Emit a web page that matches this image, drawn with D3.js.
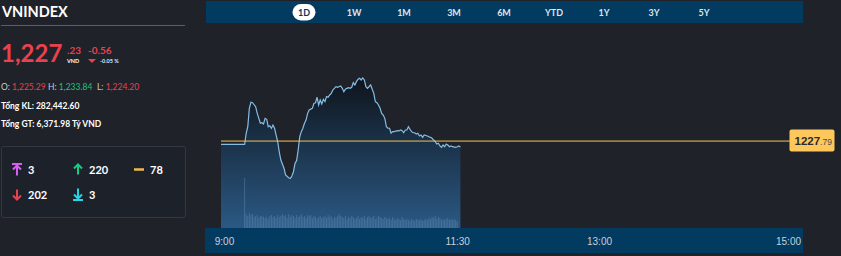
<!DOCTYPE html>
<html>
<head>
<meta charset="utf-8">
<script src="https://cdn.jsdelivr.net/npm/d3@7"></script>
<style>
  body { margin: 0; background: #202229; overflow: hidden; }
  svg { display: block; font-family: Lato, "Noto Sans", sans-serif; }
</style>
</head>
<body>
<svg id="chart" width="841" height="256"></svg>
<script>
// ---- data ----
const times = [
  "9:00","9:15","9:16","9:17","9:18","9:19","9:20","9:22","9:23","9:24",
  "9:25","9:26","9:27","9:28","9:29","9:30","9:31","9:32","9:33","9:34",
  "9:35","9:36","9:37","9:38","9:40","9:41","9:43","9:44","9:45","9:46",
  "9:47","9:48","9:49","9:50","9:51","9:52","9:53","9:54","9:55","9:56",
  "9:58","9:59","10:00","10:01","10:02","10:03","10:04","10:05","10:06","10:07",
  "10:08","10:09","10:10","10:11","10:12","10:13","10:14","10:16","10:17","10:18",
  "10:19","10:20","10:21","10:22","10:23","10:24","10:25","10:26","10:27","10:28",
  "10:29","10:30","10:31","10:32","10:33","10:35","10:36","10:37","10:38","10:39",
  "10:40","10:41","10:42","10:43","10:44","10:45","10:46","10:47","10:48","10:49",
  "10:50","10:52","10:53","10:54","10:55","10:56","10:57","10:58","10:59","11:00",
  "11:01","11:02","11:03","11:04","11:05","11:06","11:07","11:08","11:09","11:11",
  "11:12","11:13","11:14","11:15","11:16","11:17","11:18","11:19","11:20","11:21",
  "11:22","11:23","11:24","11:25","11:26","11:27","11:29","11:30","11:31","11:32"
];
const prices = [
  1227.48,1227.48,1228.54,1229.17,1230.93,1231.51,1231.47,1231.09,1230.45,1229.97,
  1229.50,1229.55,1229.43,1229.97,1229.88,1229.17,1229.26,1229.02,1229.33,1229.02,
  1228.37,1227.73,1226.74,1225.97,1225.18,1224.54,1224.28,1224.20,1224.44,1224.85,
  1225.66,1225.91,1226.93,1228.21,1228.69,1229.02,1229.50,1229.81,1230.45,1230.77,
  1230.93,1231.41,1231.47,1231.99,1231.25,1231.73,1231.35,1231.80,1231.57,1232.05,
  1231.99,1232.21,1232.37,1232.69,1232.85,1233.01,1232.95,1233.07,1232.85,1232.53,
  1232.76,1232.85,1232.91,1232.85,1232.95,1233.39,1233.17,1233.49,1233.72,1233.81,
  1233.65,1233.84,1233.65,1233.01,1232.85,1233.17,1232.76,1232.37,1231.57,1231.47,
  1231.25,1230.93,1230.45,1230.29,1229.97,1229.17,1229.02,1229.02,1228.54,1228.69,
  1228.69,1228.79,1228.76,1228.85,1228.79,1228.59,1228.85,1228.85,1229.17,1228.92,
  1228.69,1228.59,1228.59,1228.47,1228.54,1228.28,1228.37,1228.15,1228.37,1228.28,
  1228.21,1228.15,1228.06,1227.89,1227.73,1227.51,1227.58,1227.32,1227.19,1227.41,
  1227.25,1227.51,1227.41,1227.25,1227.32,1227.25,1227.19,1227.25,1227.32,1227.23
];

const volTimes = [
  "9:15","9:16","9:17","9:18","9:19","9:20","9:21","9:22","9:23","9:24","9:25",
  "9:26","9:27","9:28","9:29","9:30","9:31","9:32","9:33","9:34","9:35",
  "9:36","9:37","9:38","9:39","9:40","9:41","9:42","9:43","9:44","9:45",
  "9:46","9:47","9:48","9:49","9:50","9:51","9:52","9:53","9:54","9:55",
  "9:56","9:57","9:58","9:59","10:00","10:01","10:02","10:03","10:04","10:05",
  "10:06","10:07","10:08","10:09","10:10","10:11","10:12","10:13","10:14","10:15",
  "10:16","10:17","10:18","10:19","10:20","10:21","10:22","10:23","10:24","10:25",
  "10:26","10:27","10:28","10:29","10:30","10:31","10:32","10:33","10:34","10:35",
  "10:36","10:37","10:38","10:39","10:40","10:41","10:42","10:43","10:44","10:45",
  "10:46","10:47","10:48","10:49","10:50","10:51","10:52","10:53","10:54","10:55",
  "10:56","10:57","10:58","10:59","11:00","11:01","11:02","11:03","11:04","11:05",
  "11:06","11:07","11:08","11:09","11:10","11:11","11:12","11:13","11:14","11:15",
  "11:16","11:17","11:18","11:19","11:20","11:21","11:22","11:23","11:24","11:25",
  "11:26","11:27","11:28","11:29","11:30"
];
const volumes = [
  8520,2390,2040,2560,2210,2380,1870,2050,2210,1700,2040,
  2040,1870,1710,1870,1530,2040,2210,1870,2040,1700,
  2210,1870,2040,2380,2040,2210,1700,2380,1870,2210,
  2040,1700,2210,1870,2040,2380,1870,2040,1700,2210,
  2040,2210,1700,2040,1870,1530,1870,2040,1700,1870,
  2040,1700,2210,1870,2040,1530,1870,1700,2040,2380,
  2040,1870,1700,2040,1530,1870,1700,2040,1870,1530,
  1700,2040,1530,1870,1700,2040,1530,1870,2040,1700,
  1870,2040,1530,1700,2040,1870,1700,1530,1870,1700,
  1530,1700,1360,1870,1530,1360,1700,1530,1360,1870,
  1530,1360,1530,1360,1190,1530,1360,1190,1530,1360,
  1360,1530,1190,1360,1530,1360,1700,1530,1870,1700,
  2040,1530,1870,1700,1360,1530,1360,1530,1700,1360,
  1530,1360,1530,1360,1190
];

const refPrice = 1227.79;
const axisTicks = ["9:00", "11:30", "13:00", "15:00"];
const periods = ["1D", "1W", "1M", "3M", "6M", "YTD", "1Y", "3Y", "5Y"];
const ohlLabels = ["O: ", "H: ", "L: "];
const ohlValues = [1225.29, 1233.84, 1224.20];
const breadthKeys = ["ceil", "up", "flat", "down", "floor"];
const breadthCounts = [3, 220, 78, 202, 3];

// ---- scales ----
const parseTime = d3.timeParse("%H:%M");
const x = d3.scaleTime()
    .domain([parseTime("9:00"), parseTime("15:00")])
    .range([221, 788]);
const y = d3.scaleLinear()
    .domain([d3.min(prices), d3.max(prices)])
    .range([178.5, 78]);
const plotBottom = 228;
const yVol = d3.scaleLinear().domain([0, 8500]).range([plotBottom, 178]);

const svg = d3.select("#chart");
const RED = "#e8414f", GREEN = "#1fc37a", NAVY = "#023a60";

// ---- top period bar ----
svg.append("rect").attr("x", 206).attr("y", 1).attr("width", 597).attr("height", 22).attr("fill", NAVY);
const px = d3.scalePoint().domain(periods).range([304, 704]);
svg.append("rect").attr("x", px("1D") - 11.5).attr("y", 4).attr("width", 23).attr("height", 16.5)
    .attr("rx", 8.5).attr("fill", "#fff");
svg.selectAll(".period").data(periods).enter().append("text")
    .attr("x", d => px(d)).attr("y", 15.5)
    .attr("text-anchor", "middle")
    .style("font-size", "9px").style("font-weight", "bold")
    .attr("fill", d => d === "1D" ? NAVY : "#dde5ee")
    .text(d => d);

// ---- price area + line ----
const data = times.map((t, i) => ({t: parseTime(t), p: prices[i]}));
const defs = svg.append("defs");
const grad = defs.append("linearGradient").attr("id", "fillGrad")
    .attr("gradientUnits", "userSpaceOnUse")
    .attr("x1", 0).attr("y1", y.range()[1]).attr("x2", 0).attr("y2", plotBottom);
grad.append("stop").attr("offset", "0%").attr("stop-color", "#0f141c");
grad.append("stop").attr("offset", "100%").attr("stop-color", "#2b5984");

svg.append("path").datum(data)
    .attr("fill", "url(#fillGrad)")
    .attr("d", d3.area().x(d => x(d.t)).y0(plotBottom).y1(d => y(d.p)));

// volume bars
svg.selectAll(".vol").data(volumes).enter().append("rect")
    .attr("x", (d, i) => x(parseTime(volTimes[i])) - 0.5)
    .attr("y", d => yVol(d))
    .attr("width", 1)
    .attr("height", d => plotBottom - yVol(d))
    .attr("fill", "rgba(130,175,220,0.3)");

svg.append("path").datum(data)
    .attr("fill", "none")
    .attr("stroke", "#86bde3")
    .attr("stroke-width", 1.2)
    .attr("d", d3.line().x(d => x(d.t)).y(d => y(d.p)));

// reference line + label
svg.append("line")
    .attr("x1", x(parseTime("9:00"))).attr("x2", 790)
    .attr("y1", y(refPrice)).attr("y2", y(refPrice))
    .attr("stroke", "#f6c350").attr("stroke-width", 1);
const lbl = svg.append("g").attr("transform", "translate(789.5," + (y(refPrice) - 11.5) + ")");
lbl.append("rect").attr("width", 45).attr("height", 22).attr("rx", 2).attr("fill", "#fec75b");
const lt = lbl.append("text").attr("x", 5).attr("y", 15.5)
    .style("font-family", "'Liberation Sans', Arial, sans-serif");
lt.append("tspan").style("font-size", "11.5px").style("font-weight", "bold").attr("fill", "#2b2b2b")
    .text(Math.floor(refPrice));
lt.append("tspan").style("font-size", "8.5px").attr("fill", "#4a4a4a")
    .text("." + refPrice.toFixed(2).split(".")[1]);

// ---- time axis ----
svg.append("rect").attr("x", 205).attr("y", plotBottom).attr("width", 598).attr("height", 25).attr("fill", NAVY);
const xAxis = d3.axisBottom(x)
    .tickValues(axisTicks.map(parseTime))
    .tickFormat(d3.timeFormat("%-H:%M"))
    .tickSize(0);
const gx = svg.append("g").attr("transform", "translate(0," + plotBottom + ")").call(xAxis);
gx.select(".domain").remove();
gx.selectAll("text")
    .attr("y", 17).attr("dy", 0)
    .attr("dx", (d, i) => i === 0 ? 3 : 0)
    .attr("fill", "#c9d0d8")
    .style("font-family", "'Liberation Sans', Arial, sans-serif")
    .style("font-size", "10px");

// ---- left info panel ----
svg.append("text").attr("x", 2).attr("y", 17).attr("fill", "#fff")
    .style("font-size", "14.5px").style("font-weight", "bold").text("VNINDEX");
svg.append("line").attr("x1", 1).attr("x2", 185).attr("y1", 25.5).attr("y2", 25.5)
    .attr("stroke", "#5b5e64");

svg.append("text").attr("x", 1).attr("y", 62).attr("fill", RED)
    .style("font-size", "24px").style("font-weight", "bold").text("1,227");
svg.append("text").attr("x", 67).attr("y", 54).attr("fill", RED)
    .style("font-size", "10px").style("font-weight", "bold").text(".23");
svg.append("text").attr("x", 67).attr("y", 62.5).attr("fill", "#fff")
    .style("font-size", "5.5px").style("font-weight", "bold").text("VND");
svg.append("text").attr("x", 88).attr("y", 54).attr("fill", RED)
    .style("font-size", "10px").style("font-weight", "bold").text("-0.56");
svg.append("path").attr("d", "M88,59 L96,59 L92,63 Z").attr("fill", RED);
svg.append("text").attr("x", 100).attr("y", 62.5).attr("fill", "#d4e6f7")
    .style("font-size", "5.5px").style("font-weight", "bold").text("-0.05 %");

const ohlX = [1, 48, 97];
const ohlColors = [RED, GREEN, RED];
ohlLabels.forEach((l, i) => {
    const t = svg.append("text").attr("x", ohlX[i]).attr("y", 89.5).style("font-size", "8.5px");
    t.append("tspan").attr("fill", "#c9cdd3").text(l);
    t.append("tspan").attr("fill", ohlColors[i]).text(d3.format(",.2f")(ohlValues[i]));
});
svg.append("text").attr("x", 1).attr("y", 109).attr("fill", "#fff")
    .style("font-size", "8.5px").style("font-weight", "bold").text("Tổng KL: 282,442.60");
svg.append("text").attr("x", 1).attr("y", 127).attr("fill", "#fff")
    .style("font-size", "8.5px").style("font-weight", "bold").text("Tổng GT: 6,371.98 Tỷ VND");

// breadth box
svg.append("rect").attr("x", 1.5).attr("y", 146.5).attr("width", 184).attr("height", 71)
    .attr("rx", 2).attr("fill", "#1d212a").attr("stroke", "#34373e");
const iconColors = {ceil: "#d261f0", up: "#19c98a", flat: "#f0b84a", down: "#e8414f", floor: "#22d6e6"};
const iconPaths = {
    ceil: "M-5,-5.5 L5,-5.5 M-4,0 L0,-4 L4,0 M0,-4 L0,6",
    up: "M-4,-1 L0,-5 L4,-1 M0,-5 L0,5",
    flat: "M-5,0 L5,0",
    down: "M-4,1 L0,5 L4,1 M0,5 L0,-5",
    floor: "M-5,5.5 L5,5.5 M-4,0 L0,4 L4,0 M0,4 L0,-6"
};
const colX = [17, 78, 139], rowY = [169.5, 194.5];
const cells = svg.selectAll(".breadth").data(breadthKeys).enter().append("g")
    .attr("transform", (d, i) => "translate(" + colX[i % 3] + "," + rowY[Math.floor(i / 3)] + ")");
cells.append("path")
    .attr("d", d => iconPaths[d])
    .attr("fill", "none")
    .attr("stroke", d => iconColors[d])
    .attr("stroke-width", d => d === "flat" ? 2.5 : 2);
cells.append("text")
    .attr("x", 11).attr("y", 4)
    .attr("fill", "#fff")
    .style("font-size", "11px").style("font-weight", "bold")
    .text((d, i) => breadthCounts[i]);
</script>
</body>
</html>
